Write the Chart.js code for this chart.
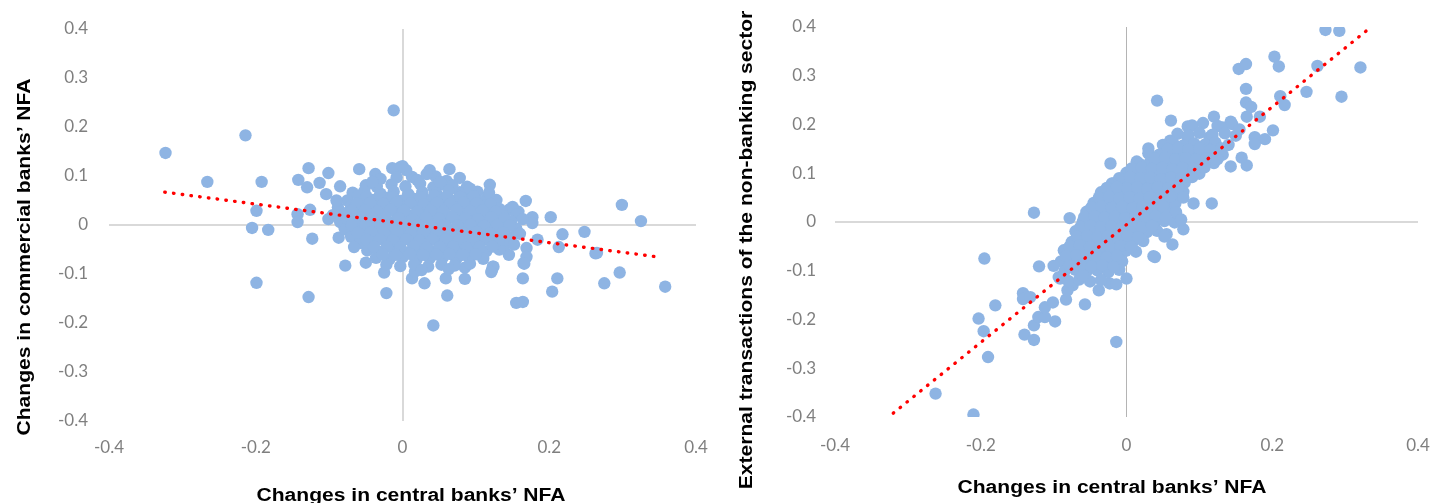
<!DOCTYPE html>
<html>
<head>
<meta charset="utf-8">
<script src="https://cdn.jsdelivr.net/npm/chart.js@4.4.1/dist/chart.umd.min.js"></script>
<style>
  html, body { margin: 0; padding: 0; background: #fff; }
  .box { position: absolute; top: 0; height: 503px; }
  #leftBox { left: 0; width: 716px; }
  #rightBox { left: 716px; width: 717px; }
</style>
</head>
<body>
<div class="box" id="leftBox"><canvas id="chartLeft" width="716" height="503"></canvas></div>
<div class="box" id="rightBox"><canvas id="chartRight" width="717" height="503"></canvas></div>
<script>
// axis ticks (same on both panels)
const xTickValues = [-0.4, -0.2, 0, 0.2, 0.4];
const xTickLabels = ["-0.4", "-0.2", "0", "0.2", "0.4"];
const yTickValues = [0.4, 0.3, 0.2, 0.1, 0, -0.1, -0.2, -0.3, -0.4];
const yTickLabels = ["0.4", "0.3", "0.2", "0.1", "0", "-0.1", "-0.2", "-0.3", "-0.4"];

const xTitle = "Changes in central banks\u2019 NFA";
const leftYTitle = "Changes in commercial banks\u2019 NFA";
const rightYTitle = "External transactions of the non-banking sector";

// left panel: [central banks NFA change, commercial banks NFA change]
const commercialPoints = [
  [-0.323,0.147],[-0.266,0.088],[-0.214,0.183],[-0.192,0.088],[-0.199,0.029],[-0.205,-0.006],
  [-0.183,-0.010],[-0.142,0.092],[-0.128,0.116],[-0.130,0.077],[-0.113,0.086],[-0.104,0.063],
  [-0.101,0.106],[-0.126,0.031],[-0.143,0.022],[-0.143,0.006],[-0.123,-0.028],[-0.087,-0.026],
  [-0.085,0.079],[-0.059,0.114],[-0.037,0.104],[-0.012,0.234],[-0.063,-0.020],[-0.079,-0.006],
  [-0.199,-0.118],[-0.128,-0.147],[-0.078,-0.083],[-0.050,-0.077],[-0.022,-0.139],[-0.025,-0.097],
  [0.013,-0.109],[0.017,-0.095],[0.030,-0.119],[0.042,-0.205],[0.061,-0.144],[0.059,-0.109],
  [0.085,-0.110],[0.085,-0.087],[0.122,-0.092],[0.124,-0.085],[0.164,-0.109],[0.165,-0.078],
  [0.155,-0.159],[0.164,-0.157],[0.204,-0.136],[0.211,-0.109],[0.263,-0.058],[0.275,-0.119],
  [0.296,-0.097],[0.358,-0.126],[0.299,0.041],[0.325,0.008],[0.248,-0.014],[0.218,-0.019],
  [0.202,0.016],[0.168,0.049],[0.119,0.082],[0.265,-0.057],[0.213,-0.045],[0.145,0.031],
  [0.158,0.027],[0.177,0.016],[0.177,0.004],[0.184,-0.030],[0.169,-0.047],[0.169,-0.065],
  [0.166,-0.079],[0.123,-0.085],[0.121,-0.096],[0.145,-0.061],[0.078,0.096],[0.064,0.114],
  [0.055,0.083],[0.078,0.067],[0.093,0.057],[0.116,0.057],[0.037,0.112],[0.013,0.098],
  [-0.003,0.118],[0.005,0.112],[-0.014,0.116],[0.000,0.120],
  [-0.030,0.094],[-0.008,0.097],[0.020,0.092],[0.045,0.099],[0.060,0.090],
  [-0.050,0.081],[-0.035,0.078],[-0.015,0.083],[0.004,0.079],[0.024,0.084],[0.042,0.077],[0.068,0.081],[0.088,0.078],
  [-0.068,0.066],[-0.052,0.069],[-0.030,0.064],[-0.012,0.068],[0.008,0.063],[0.027,0.067],[0.046,0.065],[0.063,0.070],[0.082,0.064],[0.102,0.068],
  [-0.075,0.050],[-0.058,0.054],[-0.040,0.051],[-0.022,0.055],[-0.003,0.049],[0.016,0.053],[0.034,0.050],[0.052,0.055],[0.070,0.049],[0.088,0.052],[0.106,0.047],[0.128,0.051],
  [-0.088,0.036],[-0.070,0.039],[-0.053,0.035],[-0.035,0.038],[-0.017,0.034],[0.002,0.039],[0.020,0.036],[0.038,0.040],[0.056,0.034],[0.074,0.038],[0.092,0.035],[0.110,0.039],[0.132,0.033],[0.150,0.037],
  [-0.095,0.020],[-0.078,0.024],[-0.060,0.019],[-0.043,0.023],[-0.025,0.021],[-0.008,0.025],[0.011,0.019],[0.029,0.022],[0.047,0.024],[0.065,0.018],[0.083,0.023],[0.100,0.020],[0.118,0.024],[0.137,0.018],[0.156,0.021],
  [-0.085,0.006],[-0.067,0.009],[-0.050,0.004],[-0.032,0.008],[-0.014,0.005],[0.005,0.009],[0.023,0.006],[0.041,0.010],[0.059,0.004],[0.077,0.008],[0.095,0.005],[0.112,0.009],[0.130,0.004],[0.148,0.008],
  [-0.078,-0.009],[-0.060,-0.006],[-0.042,-0.010],[-0.024,-0.005],[-0.006,-0.009],[0.012,-0.006],[0.030,-0.011],[0.048,-0.007],[0.066,-0.010],[0.084,-0.005],[0.102,-0.009],[0.120,-0.006],[0.139,-0.010],[0.155,-0.007],
  [-0.070,-0.024],[-0.052,-0.021],[-0.034,-0.025],[-0.016,-0.020],[0.002,-0.024],[0.020,-0.021],[0.038,-0.026],[0.056,-0.022],[0.074,-0.025],[0.092,-0.020],[0.110,-0.024],[0.128,-0.021],[0.146,-0.025],
  [-0.058,-0.037],[-0.040,-0.040],[-0.022,-0.036],[-0.004,-0.041],[0.014,-0.037],[0.032,-0.040],[0.050,-0.035],[0.068,-0.039],[0.086,-0.036],[0.104,-0.041],[0.122,-0.037],[0.140,-0.040],
  [-0.048,-0.052],[-0.030,-0.055],[-0.012,-0.051],[0.006,-0.056],[0.024,-0.052],[0.042,-0.054],[0.060,-0.050],[0.078,-0.055],[0.096,-0.051],[0.114,-0.054],[0.132,-0.050],
  [-0.036,-0.067],[-0.018,-0.070],[0.000,-0.066],[0.019,-0.071],[0.037,-0.068],[0.055,-0.066],[0.073,-0.070],[0.091,-0.067],[0.110,-0.069],
  [-0.022,-0.081],[-0.003,-0.084],[0.016,-0.080],[0.035,-0.085],[0.053,-0.081],[0.071,-0.083],[0.092,-0.079],
  [-0.041,0.088],[0.033,0.104],[0.051,0.088],[-0.060,0.060],[0.092,0.074],[0.118,0.066],[-0.090,0.050],
  [-0.101,0.012],[0.164,0.012],[0.160,-0.018],[0.152,-0.040],[-0.066,-0.045],[0.026,-0.092],[0.063,-0.090],
  [-0.049,0.058],[-0.031,0.060],[-0.013,0.057],[0.007,0.059],[0.025,0.056],[0.043,0.060],[0.061,0.058],[0.079,0.057],[0.097,0.059],
  [-0.062,0.044],[-0.044,0.045],[-0.026,0.043],[-0.008,0.046],[0.011,0.044],[0.029,0.042],[0.047,0.045],[0.065,0.043],[0.083,0.046],[0.101,0.044],[0.120,0.043],
  [-0.069,0.029],[-0.051,0.030],[-0.034,0.028],[-0.016,0.031],[0.002,0.029],[0.020,0.027],[0.038,0.030],[0.056,0.028],[0.074,0.031],[0.092,0.028],[0.109,0.030],[0.127,0.027],
  [-0.076,0.014],[-0.058,0.015],[-0.041,0.013],[-0.023,0.016],[-0.005,0.014],[0.014,0.012],[0.032,0.015],[0.050,0.013],[0.068,0.016],[0.086,0.014],[0.103,0.012],[0.121,0.015],[0.139,0.013],
  [-0.069,-0.001],[-0.051,0.001],[-0.033,-0.002],[-0.015,0.000],[0.003,-0.001],[0.021,0.001],[0.039,-0.002],[0.057,0.000],[0.075,-0.001],[0.093,0.001],[0.111,-0.002],[0.129,0.000],[0.146,-0.001],
  [-0.061,-0.016],[-0.043,-0.014],[-0.025,-0.017],[-0.007,-0.015],[0.011,-0.016],[0.029,-0.014],[0.047,-0.017],[0.065,-0.015],[0.083,-0.016],[0.101,-0.014],[0.119,-0.017],[0.137,-0.015],
  [-0.049,-0.030],[-0.031,-0.029],[-0.013,-0.031],[0.005,-0.029],[0.023,-0.032],[0.041,-0.030],[0.059,-0.029],[0.077,-0.031],[0.095,-0.030],[0.113,-0.029],[0.131,-0.031],
  [-0.039,-0.045],[-0.021,-0.044],[-0.003,-0.046],[0.015,-0.044],[0.033,-0.046],[0.051,-0.045],[0.069,-0.044],[0.087,-0.046],[0.105,-0.045],[0.123,-0.044],
  [-0.027,-0.060],[-0.009,-0.061],[0.010,-0.059],[0.028,-0.061],[0.046,-0.060],[0.064,-0.059],[0.082,-0.061],[0.100,-0.060]
];

// right panel: [central banks NFA change, non-banking external transactions]
const nonBankPoints = [
  [-0.127,0.019],[-0.078,0.008],[-0.195,-0.075],
  [0.273,0.394],[0.292,0.392],[0.321,0.317],[0.295,0.257],[0.247,0.267],[0.262,0.320],[0.203,0.339],
  [0.209,0.319],[0.154,0.314],[0.164,0.324],[0.164,0.273],[0.164,0.245],[0.171,0.236],[0.211,0.258],
  [0.217,0.240],[0.165,0.216],[0.183,0.216],[0.201,0.188],[0.042,0.249],[0.061,0.208],[0.084,0.196],
  [0.120,0.216],[0.143,0.206],[0.132,0.194],[0.084,0.174],[0.114,0.174],[0.060,0.167],[0.176,0.174],
  [0.176,0.160],[0.030,0.151],[-0.022,0.120],[0.165,0.116],[0.143,0.114],[0.158,0.132],[0.117,0.038],
  [0.092,0.038],[0.078,-0.015],[0.063,-0.046],[0.055,-0.025],[0.037,-0.070],[-0.086,-0.058],[-0.063,-0.036],
  [-0.050,0.025],[-0.030,0.040],[-0.018,0.079],[0.014,0.124],[0.042,0.124],[0.062,0.165],
  [-0.120,-0.091],[-0.091,-0.116],[-0.142,-0.146],[-0.142,-0.158],[-0.132,-0.154],[-0.180,-0.171],
  [-0.203,-0.198],[-0.196,-0.224],[-0.190,-0.277],[-0.262,-0.352],[-0.210,-0.395],[-0.140,-0.231],
  [-0.127,-0.242],[-0.127,-0.212],[-0.121,-0.195],[-0.112,-0.195],[-0.098,-0.204],[-0.112,-0.175],
  [-0.101,-0.165],[-0.083,-0.159],[-0.057,-0.169],[-0.074,-0.130],[-0.038,-0.140],[-0.014,-0.246],
  [-0.023,-0.126],[-0.014,-0.128],[0.000,-0.116],[0.039,-0.072],[-0.081,-0.140],[-0.093,-0.113],
  [0.090,0.198],[0.105,0.203],[0.125,0.197],[0.145,0.201],
  [0.070,0.181],[0.085,0.178],[0.100,0.183],[0.118,0.179],[0.135,0.182],[0.150,0.177],
  [0.050,0.158],[0.064,0.162],[0.078,0.157],[0.093,0.161],[0.108,0.159],[0.122,0.163],[0.140,0.158],
  [0.030,0.141],[0.045,0.138],[0.060,0.143],[0.074,0.139],[0.088,0.142],[0.102,0.137],[0.118,0.141],[0.132,0.138],
  [0.018,0.119],[0.032,0.122],[0.046,0.118],[0.060,0.121],[0.075,0.117],[0.090,0.122],[0.105,0.119],[0.120,0.121],
  [0.000,0.101],[0.014,0.098],[0.028,0.102],[0.042,0.099],[0.056,0.103],[0.070,0.097],[0.085,0.101],[0.100,0.099],
  [-0.020,0.079],[-0.005,0.082],[0.010,0.078],[0.024,0.081],[0.038,0.077],[0.052,0.082],[0.066,0.079],[0.080,0.081],
  [-0.035,0.061],[-0.020,0.058],[-0.006,0.062],[0.008,0.059],[0.022,0.063],[0.036,0.058],[0.050,0.061],[0.064,0.057],[0.078,0.062],
  [-0.045,0.039],[-0.031,0.042],[-0.017,0.038],[-0.003,0.041],[0.011,0.037],[0.025,0.042],[0.039,0.039],[0.053,0.041],[0.067,0.038],
  [-0.055,0.021],[-0.041,0.018],[-0.027,0.022],[-0.013,0.019],[0.001,0.023],[0.015,0.018],[0.029,0.021],[0.043,0.019],[0.057,0.022],
  [-0.060,0.001],[-0.046,-0.002],[-0.032,0.002],[-0.018,-0.001],[-0.004,0.003],[0.010,-0.002],[0.024,0.001],[0.038,-0.003],[0.052,0.002],[0.066,-0.001],
  [-0.070,-0.019],[-0.056,-0.022],[-0.042,-0.018],[-0.028,-0.021],[-0.014,-0.017],[0.000,-0.022],[0.014,-0.019],[0.028,-0.021],[0.042,-0.018],
  [-0.075,-0.041],[-0.061,-0.038],[-0.047,-0.042],[-0.033,-0.039],[-0.019,-0.043],[-0.005,-0.038],[0.009,-0.041],[0.023,-0.039],
  [-0.085,-0.059],[-0.071,-0.062],[-0.057,-0.058],[-0.043,-0.061],[-0.029,-0.057],[-0.015,-0.062],[-0.001,-0.059],[0.013,-0.061],
  [-0.090,-0.081],[-0.076,-0.078],[-0.062,-0.082],[-0.048,-0.079],[-0.034,-0.083],[-0.020,-0.078],[-0.006,-0.081],
  [-0.085,-0.101],[-0.070,-0.098],[-0.055,-0.102],[-0.040,-0.099],[-0.025,-0.103],[-0.010,-0.098],
  [-0.080,-0.121],[-0.065,-0.118],[-0.050,-0.122],[-0.035,-0.119],
  [0.110,0.150],[0.128,0.150],[0.096,0.130],[0.112,0.130],[0.068,0.110],[0.090,0.110],[0.048,0.090],
  [0.070,0.090],[0.030,0.070],[0.060,0.070],[0.078,0.050],[0.068,0.020],[0.075,0.005],[0.052,-0.030],
  [-0.068,-0.070],[-0.100,-0.090],[-0.060,-0.110],[0.190,0.170],[0.155,0.190],
  [0.057,0.150],[0.071,0.152],[0.085,0.149],[0.100,0.151],[0.115,0.148],[0.130,0.151],
  [0.039,0.130],[0.053,0.132],[0.067,0.129],[0.081,0.131],[0.095,0.128],[0.110,0.131],[0.125,0.129],
  [0.007,0.110],[0.021,0.112],[0.035,0.109],[0.049,0.111],[0.063,0.108],[0.077,0.111],[0.092,0.109],[0.107,0.112],
  [-0.010,0.090],[0.005,0.092],[0.019,0.089],[0.033,0.091],[0.047,0.088],[0.061,0.091],[0.075,0.089],[0.090,0.092],
  [-0.027,0.070],[-0.013,0.072],[0.001,0.069],[0.015,0.071],[0.029,0.068],[0.043,0.071],[0.057,0.069],[0.071,0.072],
  [-0.038,0.050],[-0.024,0.052],[-0.010,0.049],[0.004,0.051],[0.018,0.048],[0.032,0.051],[0.046,0.049],[0.060,0.052],
  [-0.048,0.030],[-0.034,0.032],[-0.020,0.029],[-0.006,0.031],[0.008,0.028],[0.022,0.031],[0.036,0.029],[0.050,0.032],
  [-0.058,0.010],[-0.044,0.012],[-0.030,0.009],[-0.016,0.011],[-0.002,0.008],[0.012,0.011],[0.026,0.009],[0.040,0.012],[0.054,0.010],
  [-0.063,-0.010],[-0.049,-0.008],[-0.035,-0.011],[-0.021,-0.009],[-0.007,-0.012],[0.007,-0.009],[0.021,-0.011],[0.035,-0.008],
  [-0.068,-0.030],[-0.054,-0.028],[-0.040,-0.031],[-0.026,-0.029],[-0.012,-0.032],[0.002,-0.029],[0.016,-0.031],
  [-0.078,-0.050],[-0.064,-0.048],[-0.050,-0.051],[-0.036,-0.049],[-0.022,-0.052],[-0.008,-0.049],[0.006,-0.051],
  [-0.083,-0.070],[-0.069,-0.068],[-0.055,-0.071],[-0.041,-0.069],[-0.027,-0.072],[-0.013,-0.069],
  [-0.078,-0.090],[-0.063,-0.088],[-0.048,-0.091],[-0.033,-0.089],[-0.018,-0.092]
];

// linear trend lines (end points)
const leftTrendX = [-0.324, 0.352];
const leftTrendY = [0.067, -0.066];
const rightTrendX = [-0.320, 0.334];
const rightTrendY = [-0.392, 0.398];

const dotBlue = "rgb(142,180,227)";

// draws the axis titles where the original put them
const freeTitles = {
  id: "freeTitles",
  afterDraw(chart, args, opts) {
    const ctx = chart.ctx;
    (opts.items || []).forEach(function (t) {
      ctx.save();
      ctx.translate(t.x, t.y);
      ctx.rotate(t.angle || 0);
      ctx.scale(1.17, 1);
      ctx.font = "bold 18px 'Liberation Sans', Arial, sans-serif";
      ctx.fillStyle = "#000";
      ctx.textAlign = "center";
      ctx.textBaseline = "alphabetic";
      ctx.fillText(t.text, 0, 0);
      ctx.restore();
    });
  }
};

function makeChart(canvasId, points, trendX, trendY, look) {
  const ctx = document.getElementById(canvasId);
  const tickFont = { family: "Lato, 'Liberation Sans', sans-serif", size: 17 };

  return new Chart(ctx, {
    type: "scatter",
    data: {
      datasets: [{
        type: "line",
        data: trendX.map((x, i) => ({ x: x, y: trendY[i] })),
        borderColor: "#ff0000",
        borderWidth: 3.4,
        borderDash: [0.5, 8.3],
        borderCapStyle: "round",
        pointRadius: 0,
        fill: false,
        order: 0
      }, {
        data: points.map(p => ({ x: p[0], y: p[1] })),
        backgroundColor: dotBlue,
        borderWidth: 0,
        pointRadius: 6.2,
        order: 1
      }]
    },
    options: {
      responsive: false,
      animation: false,
      devicePixelRatio: 1,
      layout: { padding: look.padding },
      scales: {
        x: {
          type: "linear",
          min: -0.4,
          max: 0.4,
          afterBuildTicks: s => { s.ticks = xTickValues.map(v => ({ value: v })); },
          afterFit: s => {
            s.height = look.xHeight;
            s.paddingLeft = 0;
            s.paddingRight = 0;
          },
          ticks: {
            padding: look.xPad,
            color: "#7f7f7f",
            font: tickFont,
            maxRotation: 0,
            callback: (v, i) => xTickLabels[i]
          },
          grid: {
            drawTicks: false,
            color: c => (c.tick && c.tick.value === 0) ? look.vLine : "rgba(0,0,0,0)",
            lineWidth: c => (c.tick && c.tick.value === 0) ? look.vWidth : 0
          },
          border: { display: false }
        },
        y: {
          type: "linear",
          min: -0.4,
          max: 0.4,
          afterBuildTicks: s => { s.ticks = yTickValues.map(v => ({ value: v })); },
          afterFit: s => {
            s.width = look.yWidth;
            s.paddingTop = 0;
            s.paddingBottom = 0;
          },
          ticks: {
            padding: look.yPad,
            color: "#7f7f7f",
            font: tickFont,
            callback: (v, i) => yTickLabels[i]
          },
          grid: {
            drawTicks: false,
            color: c => (c.tick && c.tick.value === 0) ? "#d9d9d9" : "rgba(0,0,0,0)",
            lineWidth: c => (c.tick && c.tick.value === 0) ? 2 : 0
          },
          border: { display: false }
        }
      },
      plugins: {
        legend: { display: false },
        tooltip: { enabled: false },
        freeTitles: { items: look.titles }
      }
    },
    plugins: [freeTitles]
  });
}

makeChart("chartLeft", commercialPoints, leftTrendX, leftTrendY, {
  padding: { left: 0, right: 20, top: 29, bottom: 0 },
  yWidth: 109, xHeight: 82, yPad: 21, xPad: 16,
  vLine: "#d9d9d9", vWidth: 2,
  titles: [
    { text: xTitle, x: 411, y: 501 },
    { text: leftYTitle, x: 30, y: 257, angle: -Math.PI / 2 }
  ]
});

makeChart("chartRight", nonBankPoints, rightTrendX, rightTrendY, {
  padding: { left: 0, right: 15, top: 27, bottom: 0 },
  yWidth: 119, xHeight: 86, yPad: 19, xPad: 18,
  vLine: "#b4b4b4", vWidth: 1,
  titles: [
    { text: xTitle, x: 396, y: 493 },
    { text: rightYTitle, x: 36, y: 250, angle: -Math.PI / 2 }
  ]
});
</script>
</body>
</html>
